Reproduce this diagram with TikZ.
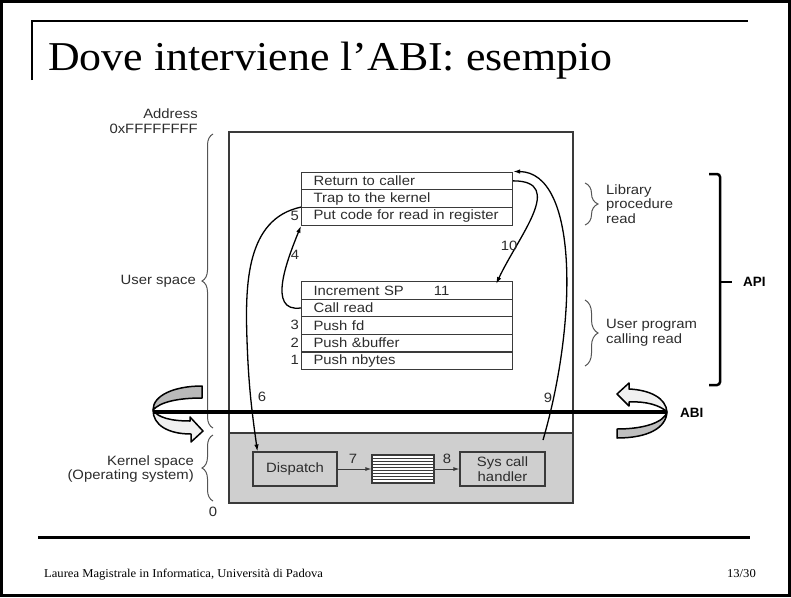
\documentclass[tikz,border=0pt]{standalone}
\usepackage{fontspec}
\setmainfont{Liberation Serif}
\newfontfamily\dfont[FakeStretch=1.1]{Liberation Sans}
\newfontfamily\bfont{Liberation Sans}
\newfontfamily\tfont[FakeStretch=1.07]{Liberation Serif}
\newfontfamily\ffont[FakeStretch=1.05]{Liberation Serif}
\usetikzlibrary{decorations.pathreplacing,arrows.meta}
\definecolor{linec}{HTML}{3A3A3A}
\definecolor{txtc}{HTML}{2C2C2C}
\definecolor{kgray}{HTML}{CFCFCF}
\definecolor{bracec}{HTML}{555555}
\tikzset{
  txt/.style={font=\dfont\fontsize{13.5}{14.5}\selectfont, text=txtc, inner sep=0pt},
  rowbox/.style={draw=linec, line width=1.1pt, minimum height=17.6pt, text width=199pt,
    inner xsep=6pt, inner ysep=0pt, align=left, anchor=north west,
    font=\dfont\fontsize{13.5}{14.5}\selectfont, text=txtc},
  numlbl/.style={txt, anchor=east},
  arr/.style={-{Latex[length=7pt,width=4.5pt]}, line width=1.3pt, black},
  sarr/.style={-{Latex[length=6pt,width=4pt]}, line width=1pt, linec},
  brc/.style={draw=bracec, line width=1pt},
  kbox/.style={draw=linec, line width=1.1pt, fill=kgray, txt, align=center},
  curlA/.style={draw=black, line width=1.5pt, line join=round},
}
\begin{document}
\begin{tikzpicture}[x=1pt,y=-1pt]
\useasboundingbox (0,0) rectangle (791,597);
% slide frame
\draw[line width=3pt] (1.5,1.5) rectangle (789.5,595.5);
\draw[line width=1.5pt] (32,80) -- (32,21) -- (748,21);
\draw[line width=3pt] (38,537) -- (750,537);
\node[anchor=base west, font=\tfont\fontsize{41}{41}\selectfont, inner sep=0pt] (title) at (48,70) {Dove interviene l’ABI: esempio};
\node[anchor=base west, font=\ffont\fontsize{12}{12}\selectfont, inner sep=0pt] (foot) at (44,577) {Laurea Magistrale in Informatica, Università di Padova};
\node[anchor=base east, font=\ffont\fontsize{12}{12}\selectfont, inner sep=0pt] (page) at (756,577) {13/30};

% main memory box
\fill[kgray] (229,433) rectangle (573,503);
\draw[linec, line width=1.1pt] (229,433) -- (573,433);
\draw[linec, line width=1.3pt] (229,132) rectangle (573,503);

% address labels
\node[txt, anchor=east, align=right] (addr) at (198,121) {Address\\0xFFFFFFFF};
\node[txt] (zero) at (213,512) {0};

% left braces
\draw[brc, decorate, decoration={brace, amplitude=11pt}] (213,428) -- (213,134);
\node[txt, anchor=east] (us) at (196,281) {User space};
\draw[brc, decorate, decoration={brace, amplitude=11pt}] (213,501) -- (213,435);
\node[txt, anchor=east, align=right] (ks) at (194,469) {Kernel space\\(Operating system)};

% library stack
\node[rowbox] (r1) at (301,171.5) {\hspace*{6pt}Return to caller};
\node[rowbox] (r2) at (301,189.3) {\hspace*{6pt}Trap to the kernel};
\node[rowbox] (r3) at (301,207.1) {\hspace*{6pt}Put code for read in register};
\node[numlbl] (n5) at (299,216) {5};

% user program stack
\node[rowbox] (s1) at (301,281) {\hspace*{6pt}Increment SP\hspace{30pt}11};
\node[rowbox] (s2) at (301,298.6) {\hspace*{6pt}Call read};
\node[rowbox] (s3) at (301,316.2) {\hspace*{6pt}Push fd};
\node[rowbox] (s4) at (301,333.8) {\hspace*{6pt}Push \&buffer};
\node[rowbox] (s5) at (301,351.4) {\hspace*{6pt}Push nbytes};
\node[numlbl] (n3) at (299,325) {3};
\node[numlbl] (n2) at (299,342.6) {2};
\node[numlbl] (n1) at (299,360.2) {1};

% right small braces
\draw[brc, decorate, decoration={brace, amplitude=13pt}] (585,183) -- (585,225);
\node[txt, anchor=west, align=left] (lib) at (606,204) {Library\\procedure\\read};
\draw[brc, decorate, decoration={brace, amplitude=13pt}] (585,300) -- (585,366);
\node[txt, anchor=west, align=left] (upc) at (606,333) {User program\\calling read};

% API bracket
\draw[line width=2.5pt, rounded corners=3pt] (709,174) -- (720,174) -- (720,385) -- (709,385);
\draw[line width=2.5pt] (720,282) -- (732,282);
\node[font=\bfont\bfseries\fontsize{13.5}{14}\selectfont, anchor=west, inner sep=0pt] (api) at (743,282) {API};

% kernel boxes
\node[kbox, minimum width=84pt, minimum height=34pt] (disp) at (295,469) {Dispatch};
\node[draw=linec, line width=1.1pt, fill=white, minimum width=62pt, minimum height=28pt, inner sep=0pt] (queue) at (403,469) {};
\foreach \i in {1,...,8} \draw[linec, line width=0.8pt] (372,{455+3.1*\i}) -- (434,{455+3.1*\i});
\node[kbox, minimum width=85pt, minimum height=34pt] (hand) at (502.5,469) {Sys call\\handler};

% arrows
\draw[arr] (s2.west) to[out=188,in=-112,looseness=1.1] (r3.south west);
\node[txt] (n4) at (295,255) {4};
\draw[arr] (r3.north west) to[out=192,in=92] (247,340) to[out=-88,in=98] ([xshift=5pt]disp.north west);
\node[txt] (n6) at (262,397) {6};
\draw[sarr] (disp.east) -- (queue.west);
\node[txt] (n7) at (353,459) {7};
\draw[sarr] (queue.east) -- (hand.west);
\node[txt] (n8) at (447,459) {8};
\coordinate (c9) at (543,440);
\draw[arr] (c9) .. controls (578,320) and (578,172) .. (r1.north east);
\node[txt] (n9) at (548,398) {9};
\draw[arr] (r1.east) to[out=0,in=65,looseness=1.3] ([xshift=-17pt,yshift=-3pt]s1.north east);
\node[txt] (n10) at (509,246) {10};

% ABI curled arrows
\draw[curlA, fill=gray!55] (202,386) .. controls (175,386) and (153,395) .. (153,410)
   .. controls (160,402) and (178,398) .. (202,398) -- cycle;
\draw[curlA, fill=gray!12] (153,410) .. controls (158,418) and (172,421) .. (190,421)
   -- (190,417) -- (203,431) -- (191,442) -- (191,434)
   .. controls (168,434) and (153,425) .. (153,410) -- cycle;
\draw[curlA, fill=gray!12] (617,394) -- (629,383) -- (629,389)
   .. controls (650,390) and (666,398) .. (667,412)
   .. controls (660,405) and (645,401) .. (629,402) -- (629,406) -- cycle;
\draw[curlA, fill=gray!50] (667,412) .. controls (664,422) and (645,429) .. (617,429)
   -- (617,438) .. controls (648,438) and (666,428) .. (667,412) -- cycle;
\coordinate (abiL) at (153,412);
\coordinate (abiR) at (667,412);
\draw[line width=4pt] (abiL) -- (abiR);
\node[font=\bfont\bfseries\fontsize{13.5}{14}\selectfont, anchor=west, inner sep=0pt] (abi) at (680,413) {ABI};
\end{tikzpicture}
\end{document}
